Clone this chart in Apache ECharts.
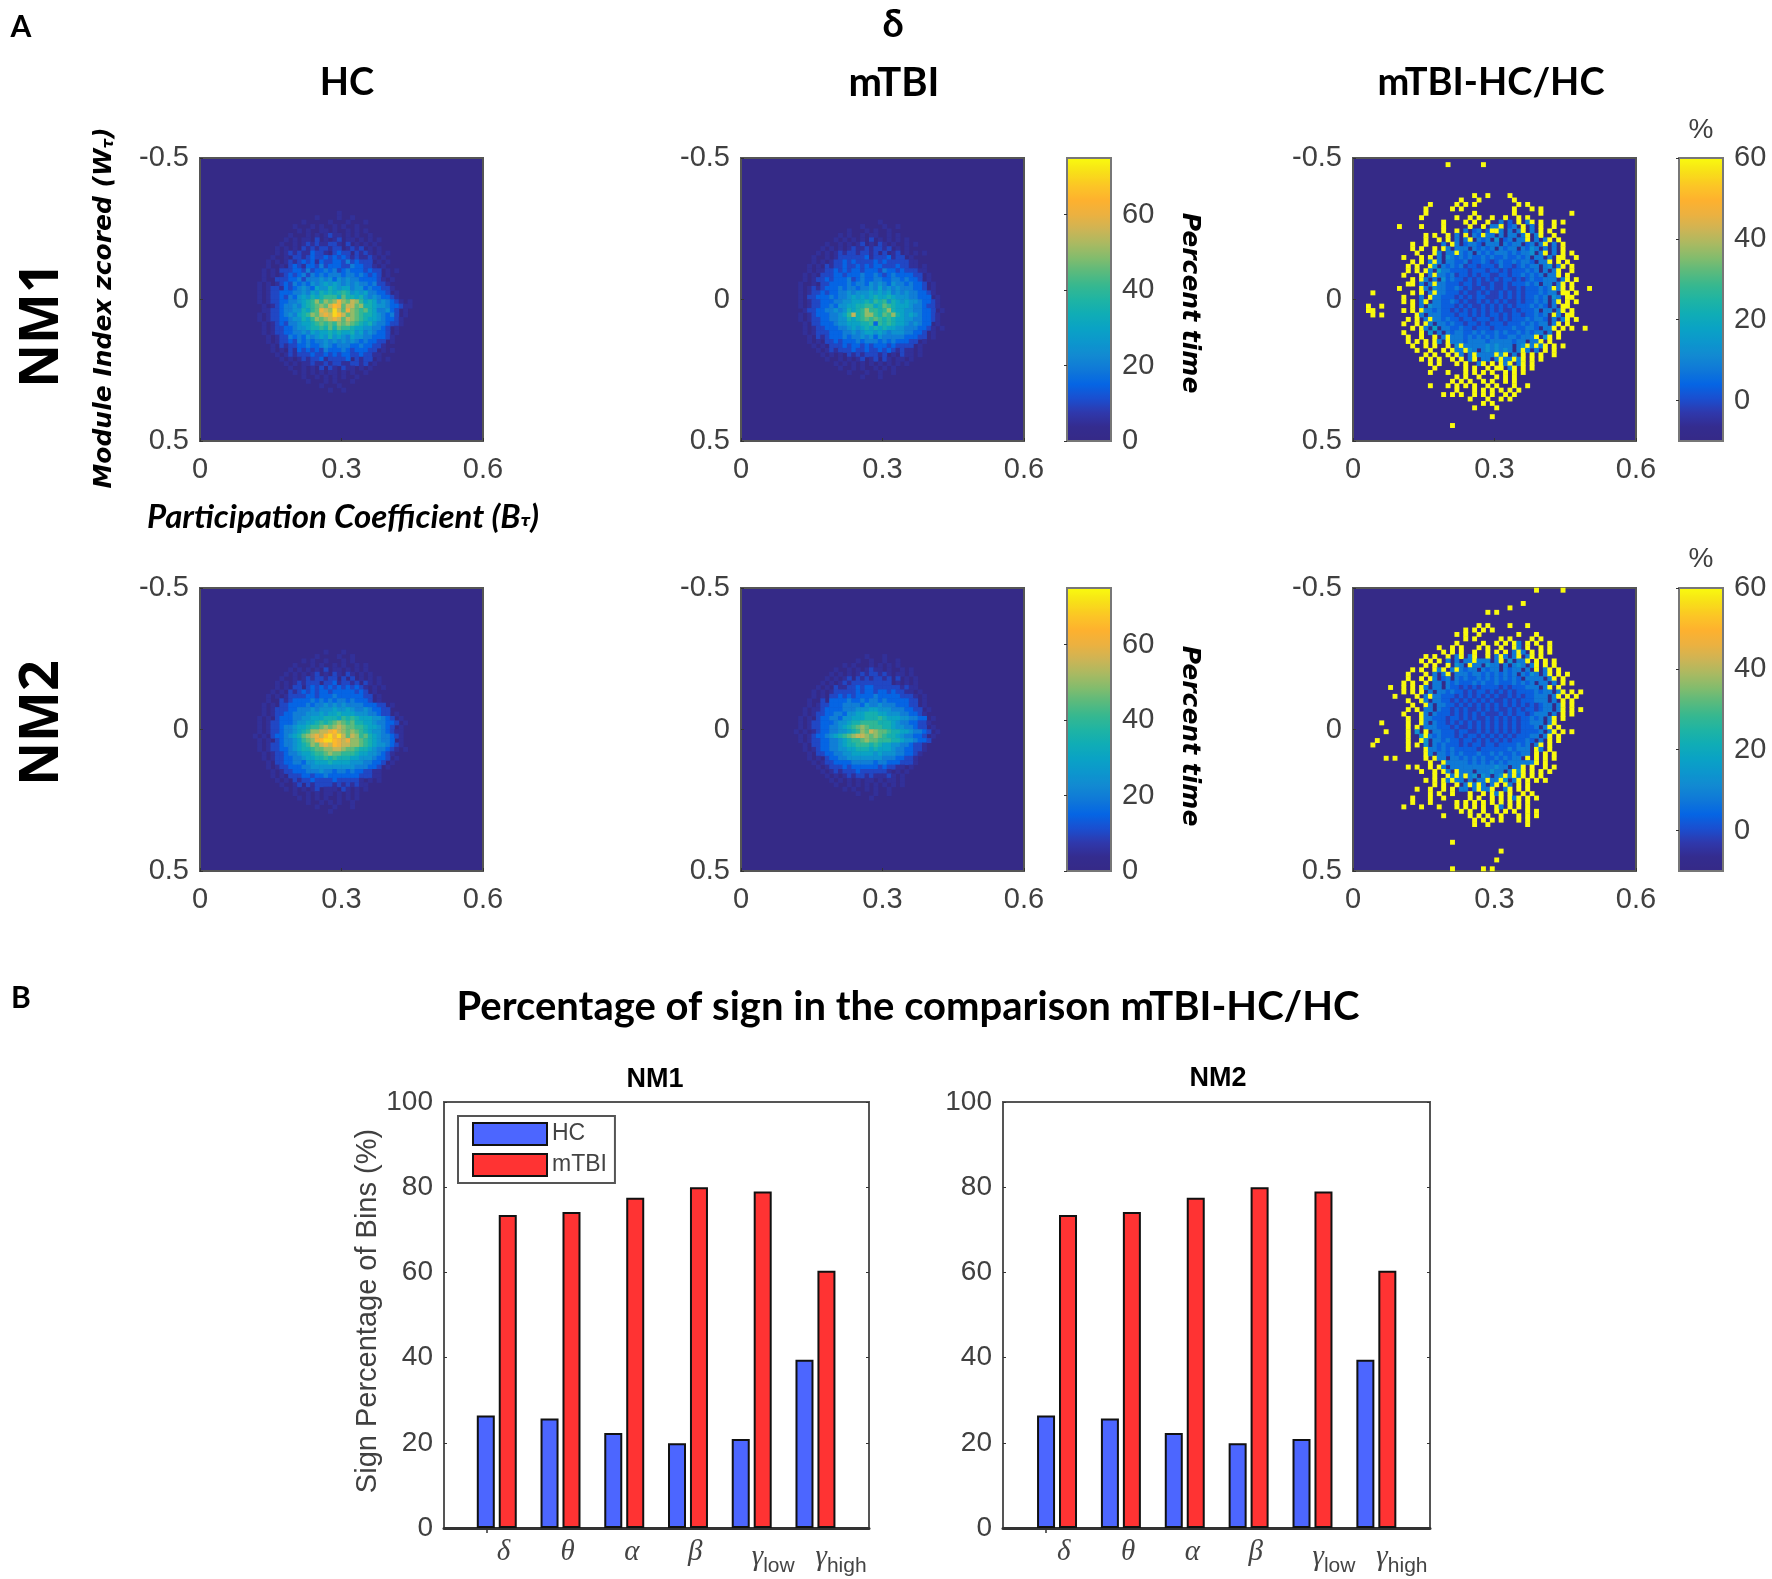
<!DOCTYPE html>
<html><head><meta charset="utf-8">
<style>html,body{margin:0;padding:0;background:#fff}#c{width:1772px;height:1579px}</style>
<script src="https://cdn.jsdelivr.net/npm/echarts@6/dist/echarts.min.js"></script>
</head><body><div id="c"></div>
<script>
// ---- data, on a 64x64 binning. Each char = level; value = scale base + 5*level; '.' = background
const bands = ['δ','θ','α','β','γlow','γhigh'];
const bandPositions = [1,2,3,4,5,6];
const hcSign = [26.4,25.7,22.3,19.9,20.9,39.5];
const mtbiSign = [73.5,74.2,77.5,80,79,60.4];

const hcNm1Rows = [
"...................1",
"..............1....1..1",
"...........1.....1...1...1",
".........1...1.1..1.1..1",
"..........1.1..11.1..1.1.1",
"........1...1.1.1211.1.1..1",
".......1.1.11.2.1.12.11.1.1.1",
"......1..1.121211221.2.1.1.1",
".....1.1.1.212122122.1212.1.1",
".....1.1212113221.2322.2121.1.1",
"....1..1.2212322323232121121.1",
"...1.1.12123231322332423222.1.1",
"...1..1.23213324233322433221.1",
"..1.1.22233242334342343332322.1.1",
"..1.1.12323424343444344343232.1",
"..1..2223342444545354544333321.1",
".1.1.12324343545656545454434221",
".1.12213234543655765664553433221",
".1.1223334454657676787565644332.1",
".1.122324356576788869776754543321",
".1.12233445678a8a9aca9ba8676454321.1",
"..1.12344546789a9bdc9bb9a77655433211",
"..1122344557689cbaeb9ca9897644532.1",
".1.1223454678a9bcbedb9a9877654342.1",
".1.12233455768a9abcb9ba98766543321",
"..1.123244566789898a9a987675443221",
"..1.122334556778797988766554432.1",
"..1.122334454656676766756454332.1",
"...1.122434354565756546554433321",
"...1.1223243434454545454343322.1",
"....1.212233433454344433433221",
"....1.1.21323232433343233322.1.1",
".....1.1212223223232332232211",
"......1.1.121223122223.2122.1.1",
".......1.1.112112122112212.1",
"........1..1.1.2.21.211.1.1",
".........1.1.1.1.11.1.1..1",
"...........1..1.1.1.1..1",
"............1...1.1...1",
"...............1...1",
".................1..1"];

const mtbiNm1Rows = [
"...................1",
"...............1....1..1",
"............1...1.1..1",
"..........1.1..1.11..1.1",
".........1.1.1.1.2.1.1.1.1",
".......1..1.1.12.1.21.1..1.1",
"......1.1.1.1211212212.1.1",
".....1.1.1212212212.2.12.1.1.1",
"....1..1.1222222312223122.1",
"....1.1.12232322223232222211",
"...1.1.212232232323322232211.1",
"...1.1122323233233324332322211",
"..1.1.22233233343343234333322.1",
"..1.1223233342343344334434332.1",
".1..1.223333434435454354434332.1",
".1.121233343443445464545444332.1",
".1.12232334454555656564545443321",
".1.2233343445656567667655544333.1",
".1.122333445566676878576565543321",
".1.122334355667788679876665443221",
"..12233445457678a8878a7665544332.1",
".1.1233344568b78aa8798a7656543321",
".1.122334455767898987876655443321",
"..1.223334556667783878766545433.1",
"..1.1223334456567676766554443321.1",
"..1.12223334454566565455544332.1",
"...1.2123334344545354444433322.1",
"...1.1.223233343444343433322.1",
"....1.1.2223233232333232222.1",
".....1.12122232232232321211.1",
"......1.1.1.212122212.1.211.1",
".......1..1.1.12.12.21.11.1",
".........1.1.1.1.1.1.1.1.1",
"..........1..1.1..1.1.1",
"............1...1..1..1",
"...............1...1"];

const hcNm2Rows = [
"................1...1",
"..............1....1..1",
"...........1.1..1...1.1",
".........1...1.1..1.1..1.1",
"........1.1.1.1.2.11.1.1.1",
".......1.1.1.12.1.21.21.1.1",
"......1..1.12122122.2.2.1.1.1",
".....1.1.121222.22312212.21.1",
".....1.1.22.23232323232321.1.1",
"....1.1.212323233233333232.1",
"...1.1.12222332333433333322.1",
"...1..212333343434344343332.1",
"..1.1.223333434454545444433322.1",
"..1.122233444545556556544543322",
"..1.122334445556566766655544322.1",
".1.1.233344556667776878766655432.1",
".1.1223334556678789a9897766544332.1",
".1.1223445667889a9aba99887665432.1",
".1.1223445678aabbcdba9a98765543211",
"1.1.23345679abcbdeceb9ba8976544321",
".1.1.23445689acdeedcbcaa98765443.1",
".1.1223445678a9bcbdcbbaa9876554321",
".1.1223345677899aabba998776544321.1",
"..1.1223445667889a99888766554321",
"..1.122334456677878777665554332.1",
"...1.2233443556667666655544332.1",
"...1.122333445555555555444332.1",
"....1.12233344454434434332211",
"....1.1.222332334333333322211",
".....1.1.2122322223222221.1.1",
"......1..12.21222212121211",
".......1.1.1.12.111.21.1.1",
".........1..1.1.11.1.1.1",
"..........1.1.1.1..1.1.1",
"............1..1.1.1..1",
"..............1...1...1",
".................1"];

const mtbiNm2Rows = [
"................1...1",
"..............1..1..1..1",
"...........1.1...1.1.1.1",
".........1..1.1.1211.1..1.1",
"........1.1.1.12122121.11.1",
".......1.1.12.21212212.2.1.1",
"......1.1.121222222222.1.1.1",
".....1.1.2112232332222221211",
"....1.1.1222223233233232211.1",
"....1.1.22323233334333332221.1",
"...1..2.33334334344343333322.1",
"...1.12233344443544544433322.1",
"..1.1123333444555665554443322.1",
"..1.12233443556677766555443321",
".1.1.2334435566677787666554433.1",
".1.1223334556778888777654433221",
".1.122334456789a98887765544322.1",
"1.1.12334455678a9ba998776654432.1",
".1.1233456789abba9a98776544332.1",
".1.1223344567889a99888776554332",
"..1.22334456778887876655443221",
"..1.12334455667776766654433221",
"...1.223344556666656555443321",
"...1.1.233445555555544433221",
"....1.1223333444443443332221",
".....1.122232333333232211.1",
"......1.12122232222221.1.1",
".......1.1.121221211121.1",
"........1.1.1.1.11.1.11.1",
".........1..1.1.1.1.1.1.1",
"...........1.1..1.1..1",
"..............1...1..1",
".................1"];

const diffNm1Rows = [
"",
"....................e.......e",
"","","","","","",
"..........................e..e....e",
".......................e...e.......e",
"................e.....e.e.e.........e.e",
"...............e.....e.e...........e...e.e",
"...............e..........e........e.....e......e",
"..............e.......e..e.e..e..e..e.e",
"...................e....e.e..e..3.2.e.3e.e..e.e",
".........e....e....e.....e..e.33e.23.e.3.e..e",
"...................e..e.3.23.2ee3.3.3e.3.e.e..e",
"...............e.e..e.3.e.32e33.3.33.3e.3e..e",
"...............e..e.e.3.3e.323.4.23.33e.3.3e.e",
"............e..e...3.e3.2332.333.3233.23.3e.3.e",
"............e.e..e.e3.333.32323.3233.3243.3.3.e",
".............e...e3.33e323.3232333232334.3e.3.e.e",
"..........e...e.e.3.4323232232322322323.33.3.ee..e",
"............e.e.3e3.33223122321232232332.33e.e.e",
"...........e.e..e4.3232312212221322123233.34.3e.e",
"...........e.e.e3.53322221222122121222323.3.3e..e",
"..........e...e.3e332312212122112212232323.33e.e",
"............e.e3.3.42322121212121221212322333.3e.e",
"...........ee.3.3e33222122121121121222323.33.3e.e",
".........e....e3.433223212112121121121222323e3e.e...e",
"...e........e.e.3e332221211212112121212223233.ee.e",
"..........e...3.e33222121212211121212122323.43.ee",
"..........e.e.3e.33223212112121212112122323.3e.e.e",
"..e..e......e.3.433222121211212121212223232.3.ee",
"..ee......e.e.e33232212121212121211212223.33.3e.e",
"...e.e.......e3.333222122121212212122122323.e3.ee",
"...........e.e.3e33232212212221212122232332.3.3e.e",
"..........e..e.e3.3323221221212221222323233.3e.e",
"............e.e3.5.3322322122212222322332.33e.e.e..e",
"..........e...e.4.3.3233223232232322323233.3.e",
"...........e..e..e.3e3332323232322332333e.4e.e",
"...........e.e.e.e3.e33323333233333233.33e.e",
"............e..e.e..e.4e33333434333.34e3e3e.e.e",
".............e..e..e.e33e43.3434343.3e3.3.e.e",
"...............e.e..e.e3.3e3333e4e.3.e.e.e..e",
"..............e.e.e..e.e.3e.33.3e33e3e.e.e",
"................e.e...e.e..3e.e.e3e.3e.e",
".................e......e.e..e.ee.3e.e.e",
"................e...e...e.e.e.e..e.e.e",
"......................e.e..e...e.e.e",
".....................e.e.e..e.e..e.e",
"................e...e.e.e.e..e.e...e..e",
"......................e...e.e.e.e.e.e",
"...................e.e.e..e.e.e..e.e",
".........................e...e..e.e",
"............................e.e",
"..........................e....e",
"","..............................e","",
".....................e"];

const diffNm2Rows = [
"........................................e.....e",
"","",
".....................................e",
"..................................e",
".............................e.e",
"","",
"...........................e.e....e...e",
"........................e.e.e.e",
"......................e.e..e........e...e",
"........................e.e.....e.e....e.e",
"......................e.....e..e.e.e3.e.e..e",
"..................e..e.e...e.e..e..e3.e..e.e",
"...................e.e.e..e..e.e.e.3e3.e.e.e",
"...............e.e..e.3e.3e..e.3e3.3e.3e.e",
"..............e.e.e.3.3.33e333.3e.4.33e.e.e.e",
"...............e.e..e.43.e33.433.3.343.3e.e.e",
"............e.e..e3e.3e3233.3233.3233.3.e.3e.e",
"...........e...e.3.3e.33323323232323.3243.3e.e.e",
"...........e..e.e3.23.323223232323232.3333.3e.e",
"..........e.e..e.33.32322232322322232323.33.3.e.e",
".......e..e.e.e3.33.322121212222121222333.3e.e",
"..........e.e.e.3.33232212122121212122223233.3e.e.e",
"........e....e.3e33222121212121211212122333.3e.e.e",
"...........e..e3.33221212121212112121222333.3.e.e",
"............e..e3.33221212121212121212121233.3e.e",
"...........e.e.33.32212121121212112121221233.3e.e.e",
"..........e...e3.32221212121211121212212333.3.e.e",
"...........e..e332221221212112121212122323.3e.e",
".....e.....e..e3.3221212121212121212122333.3e",
"...........e.e.33322212112121212121212223.3e.e",
"......e....e.4.e.3322212211212121212122223.3e.e.e",
"...........e..4e3232221212212121212122233.3e.e",
"....e......e..e4.33232212212121212122232.3.e.e",
"...e.......e.e.4.3232221212212212222323.3e.e",
"...........e...e33232322222122222232333.e3.e",
"...............e3.332323222322323223233.e.e.e",
"......e.e......e.e33.3323232322323233.e.e.e.e",
"................e..e33333232323232333333e.e",
"...........e.e..e.e3.3333333333433.33e.e..e.e",
"..............e..e.e3.e333.333433.3e4e.e.e.e",
".................e..e3e3e34.43.34e3e3e.e.e",
"...............e.e.e3e33.3.33e33e4.3e.e.e.e",
".................e.e..e.3e3e3.3e.e3.e.e",
".............e..e..e.e.33.3e33e..3e.e.e",
"................e.e..e...e..e.e3e.e..e.e",
"............e...e..e.....e.e..e.e.e3e.e.e",
"............e...e.....e.e.e.e.e.e.e.e.e",
"..........e...e...e...e.e.e.e..e3.e.e.e",
".......................e.e..e..e.e.e..e.e",
"...................e.....e.e.e..e...e.e.e",
"..........................e.e.e.e...e.e",
"..........................e..e........e",
"","","",
".....................e",
"","................................e","",
"...............................e",
"",
".....................e......e.e"];

// ---- style
const parula = ['#352a87','#342c8f','#2f38ac','#1a4fd0','#0565e4','#0f78d8','#1289d2','#0c97cd','#0aa3c4','#10adb5','#1fb4a3','#37b88f','#5cba7c','#85bc6c','#acb961','#cfb454','#ecb140','#fdb12f','#fcc526','#f8df18','#f9fb0e'];
const TICK = '#404040';
const LABEL_FONT = 'Liberation Sans';
const HEAD_FONT = 'Lato';
const BINS = 64, GAUSS_OFF = 12;
const binIdx = Array.from({length:BINS},(_,i)=>i);

const grid=[],xAxis=[],yAxis=[],series=[],visualMap=[];

function cells(rows,rowOff,colOff,base){
  const out=[];
  rows.forEach((r,i)=>{for(let j=0;j<r.length;j++){const c=r[j];if(c!=='.'){out.push([j+colOff,i+rowOff,base+5*parseInt(c,16)]);}}});
  return out;
}
const numFmt=v=>String(+v.toFixed(1));
function tickAxis(extra){
  return Object.assign({axisLine:{show:false},splitLine:{show:false},axisTick:{show:true,inside:true,length:3,lineStyle:{color:'#333',width:1}}},extra);
}
function heatPanel(left,top,rows,rowOff,colOff,base){
  const g=grid.length;
  grid.push({left,top,width:283,height:283,show:true,backgroundColor:'#352a87',borderColor:'#555',borderWidth:2,containLabel:false});
  const xi=xAxis.length,yi=yAxis.length;
  xAxis.push({gridIndex:g,type:'category',data:binIdx,show:false,position:'bottom'});
  yAxis.push({gridIndex:g,type:'category',data:binIdx,show:false,inverse:true,position:'left'});
  xAxis.push(tickAxis({gridIndex:g,type:'value',min:0,max:0.6,interval:0.3,position:'bottom',
    axisLabel:{color:TICK,fontSize:29,fontFamily:LABEL_FONT,margin:14,showMinLabel:true,showMaxLabel:true,formatter:numFmt}}));
  yAxis.push(tickAxis({gridIndex:g,type:'value',min:-0.5,max:0.5,interval:0.5,inverse:true,position:'left',
    axisLabel:{color:TICK,fontSize:29,fontFamily:LABEL_FONT,margin:11,padding:[5,0,0,0],showMinLabel:true,showMaxLabel:true,formatter:numFmt}}));
  series.push({type:'heatmap',xAxisIndex:xi,yAxisIndex:yi,data:cells(rows,rowOff,colOff,base),progressive:0,animation:false,emphasis:{disabled:true},silent:true});
  return series.length-1;
}
function colorbar(left,top,min,max,seriesIdx){
  visualMap.push({type:'continuous',min,max,dimension:2,seriesIndex:seriesIdx,left,top,itemWidth:44,itemHeight:283,padding:0,
    calculable:false,hoverLink:false,text:null,showLabel:false,inRange:{color:parula},z:1});
  const g=grid.length;
  grid.push({left,top,width:44,height:283,show:true,backgroundColor:'transparent',borderColor:'#777',borderWidth:2,z:6});
  xAxis.push({gridIndex:g,type:'value',show:false,min:0,max:1});
  yAxis.push(tickAxis({gridIndex:g,type:'value',min,max,position:'right',z:6,
    axisTick:{show:true,inside:true,length:3,customValues:[0,20,40,60],lineStyle:{color:'#333',width:1}},
    axisLabel:{customValues:[0,20,40,60],color:TICK,fontSize:29,fontFamily:LABEL_FONT,margin:11,padding:[5,0,0,0]}}));
}
const a=heatPanel(200,158,hcNm1Rows,GAUSS_OFF,GAUSS_OFF,0);
const b=heatPanel(741,158,mtbiNm1Rows,GAUSS_OFF+2,GAUSS_OFF,0);
const c=heatPanel(1353,158,diffNm1Rows,0,1,-7);
const d=heatPanel(200,588,hcNm2Rows,GAUSS_OFF+2,GAUSS_OFF,0);
const e=heatPanel(741,588,mtbiNm2Rows,GAUSS_OFF+3,GAUSS_OFF,0);
const f=heatPanel(1353,588,diffNm2Rows,0,1,-7);
colorbar(1067,158,0,75,[a,b]);
colorbar(1679,158,-10,60,[c]);
colorbar(1067,588,0,75,[d,e]);
colorbar(1679,588,-10,60,[f]);

function bandLabel(v){
  const n=bands[bandPositions.indexOf(v)];
  if(!n) return '';
  if(n.length>1) return '{g|γ}{s|'+n.slice(1)+'}';
  return '{g|'+n+'}';
}
function barPanel(left,width,xMin,topTick,hcVals,mtbiVals){
  const g=grid.length;
  grid.push({left,top:1102,width,height:426,show:true,backgroundColor:'#fff',borderColor:'#555',borderWidth:2});
  const xi=xAxis.length,yi=yAxis.length;
  xAxis.push({gridIndex:g,type:'value',min:xMin,max:6.84,position:'bottom',
    axisLine:{show:true,onZero:false,lineStyle:{color:'#333',width:3}},splitLine:{show:false},
    axisTick:{show:false,customValues:bandPositions},
    axisLabel:{customValues:bandPositions,align:'left',margin:10,formatter:bandLabel,
      rich:{g:{fontFamily:'Liberation Serif',fontStyle:'italic',fontSize:29,color:'#444'},
            s:{fontFamily:LABEL_FONT,fontSize:21,color:'#444',padding:[18,0,0,0]}}}});
  xAxis.push({gridIndex:g,type:'value',min:xMin,max:6.84,position:'top',axisLine:{show:false},splitLine:{show:false},
    axisTick:{show:true,inside:true,length:5,customValues:[topTick],lineStyle:{color:'#333',width:1.5}},axisLabel:{show:false}});
  yAxis.push(tickAxis({gridIndex:g,type:'value',min:0,max:100,interval:20,position:'left',
    axisLabel:{color:TICK,fontSize:28,fontFamily:LABEL_FONT,margin:11,padding:[4,0,0,0]}}));
  yAxis.push(tickAxis({gridIndex:g,type:'value',min:0,max:100,interval:20,position:'right',axisLabel:{show:false}}));
  const pts=v=>v.map((y,i)=>[bandPositions[i],y]);
  series.push({name:'HC',type:'bar',xAxisIndex:xi,yAxisIndex:yi,data:pts(hcVals),barWidth:18,barGap:'22%',silent:true,
    itemStyle:{color:'#4c66ff',borderColor:'#111',borderWidth:2}});
  series.push({name:'mTBI',type:'bar',xAxisIndex:xi,yAxisIndex:yi,data:pts(mtbiVals),barWidth:18,barGap:'22%',silent:true,
    itemStyle:{color:'#ff3333',borderColor:'#111',borderWidth:2}});
}
barPanel(444,425,0.172,0.838,hcSign,mtbiSign);
barPanel(1003,427,0.154,0.82,hcSign,mtbiSign);

function txt(text,x,y,font,extra,rot){
  const st=Object.assign({text,fill:'#000',align:'center',verticalAlign:'middle',
    fontFamily:font.f,fontSize:font.s,fontWeight:font.w||'normal',fontStyle:font.i?'italic':'normal'},extra||{});
  return {type:'text',x,y,rotation:rot||0,z:20,silent:true,style:st};
}
const head={f:HEAD_FONT,s:38,w:'bold'};
const wide={f:'DejaVu Sans',s:25,w:'bold',i:true};
const subRich={s:{fontFamily:'DejaVu Sans',fontSize:15,fontWeight:'bold',fontStyle:'italic',padding:[10,0,0,0],fill:'#000'}};
const graphicEls=[
 txt('A',21,27,{f:HEAD_FONT,s:30,w:'bold'}),
 txt('B',21,998,{f:HEAD_FONT,s:30,w:'bold'}),
 txt('δ',893,25,{f:HEAD_FONT,s:38,w:'bold'}),
 txt('HC',347,83,head),txt('mTBI',894,83,{f:HEAD_FONT,s:40,w:'bold'}),txt('mTBI-HC/HC',1491,83,head),
 txt('NM1',43,325,{f:'Noto Sans',s:54,w:'bold'},null,Math.PI/2),
 txt('NM2',43,723,{f:'Noto Sans',s:54,w:'bold'},null,Math.PI/2),
 txt('Module Index zcored (W{s|τ})',104,308,wide,{rich:subRich},Math.PI/2),
 txt('Participation Coefficient (B{s|τ})',343,517,{f:HEAD_FONT,s:33,w:'bold',i:true},{rich:subRich}),
 txt('Percent time',1189,303,wide,null,-Math.PI/2),
 txt('Percent time',1189,736,wide,null,-Math.PI/2),
 txt('%',1701,130,{f:LABEL_FONT,s:28},{fill:TICK}),
 txt('%',1701,559,{f:LABEL_FONT,s:28},{fill:TICK}),
 txt('Percentage of sign in the comparison mTBI-HC/HC',908,1007,{f:HEAD_FONT,s:40,w:'bold'}),
 txt('NM1',655,1080,{f:LABEL_FONT,s:27,w:'bold'}),
 txt('NM2',1218,1079,{f:LABEL_FONT,s:27,w:'bold'}),
 txt('Sign Percentage of Bins (%)',368,1311,{f:LABEL_FONT,s:29},{fill:TICK},Math.PI/2)
];

const chart=echarts.init(document.getElementById('c'),null,{renderer:'canvas'});
chart.setOption({
  animation:false,backgroundColor:'#fff',
  grid,xAxis,yAxis,series,visualMap,
  legend:{data:['HC','mTBI'],orient:'vertical',left:458,top:1116,padding:[6,8,6,14],itemGap:7,itemWidth:74,itemHeight:22,icon:'rect',
    backgroundColor:'#fff',borderColor:'#555',borderWidth:2,selectedMode:false,textStyle:{fontFamily:LABEL_FONT,fontSize:23,color:'#444'}},
  graphic:{elements:graphicEls}
});
</script></body></html>
